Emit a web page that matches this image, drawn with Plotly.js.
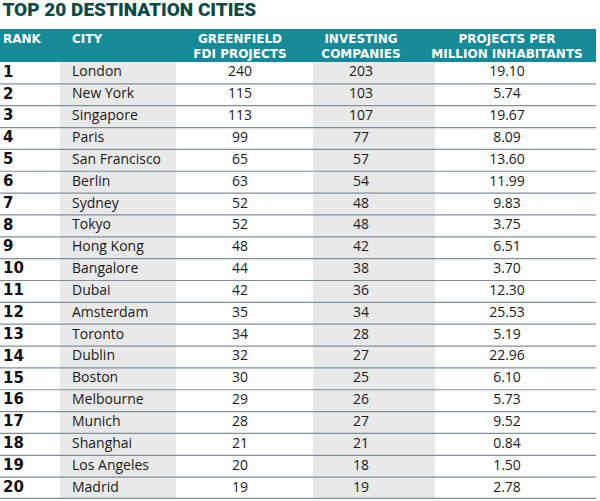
<!DOCTYPE html>
<html>
<head>
<meta charset="utf-8">
<script src="https://cdn.plot.ly/plotly-3.0.1.min.js"></script>
<style>html,body{margin:0;padding:0;background:#fff;}#chart{width:600px;height:501px;}</style>
</head>
<body>
<div id="chart"></div>
<script>
// ---- data ----
const titleText = "TOP 20 DESTINATION CITIES";
const headers = ["RANK", "CITY", "GREENFIELD<br>FDI PROJECTS", "INVESTING<br>COMPANIES", "PROJECTS PER<br>MILLION INHABITANTS"];
const ranks = [1,2,3,4,5,6,7,8,9,10,11,12,13,14,15,16,17,18,19,20];
const cities = ["London","New York","Singapore","Paris","San Francisco","Berlin","Sydney","Tokyo","Hong Kong","Bangalore","Dubai","Amsterdam","Toronto","Dublin","Boston","Melbourne","Munich","Shanghai","Los Angeles","Madrid"];
const greenfieldProjects = [240,115,113,99,65,63,52,52,48,44,42,35,34,32,30,29,28,21,20,19];
const investingCompanies = [203,103,107,77,57,54,48,48,42,38,36,34,28,27,25,26,27,21,18,19];
const projectsPerMillion = [19.10,5.74,19.67,8.09,13.60,11.99,9.83,3.75,6.51,3.70,12.30,25.53,5.19,22.96,6.10,5.73,9.52,0.84,1.50,2.78];

// ---- layout constants (styles/positions) ----
const W = 600, H = 501;
const colText = [3, 72, 240, 361, 507];          // text anchors (x axis units = px)
const headerPos = ["bottom right", "bottom right", "bottom center", "bottom center", "bottom center"];
const shadedCols = [[60, 176], [313, 435]];
const tableRight = 596;
const headerTop = 29, headerBottom = 62, bodyBottom = 499;
const teal = "#178a97", titleColor = "#0c4b47", shade = "#e9e9e9", lineColor = "#7f909c";
const bodyFont = "'Open Sans', 'Noto Sans', sans-serif";
const heavyFont = "'DejaVu Sans', Roboto, sans-serif";
const titleFont = "Roboto, 'DejaVu Sans', sans-serif";

const fr = py => (H - py) / H;

const numCols = [
  {vals: ranks.map(String), x: colText[0], pos: "middle right", font: {family: heavyFont, size: 15, color: "#111", weight: 700}},
  {vals: cities, x: colText[1], pos: "middle right", font: {family: bodyFont, size: 14, color: "#1a1a1a"}},
  {vals: greenfieldProjects.map(String), x: colText[2], pos: "middle center", font: {family: bodyFont, size: 14, color: "#1a1a1a"}},
  {vals: investingCompanies.map(String), x: colText[3], pos: "middle center", font: {family: bodyFont, size: 14, color: "#1a1a1a"}},
  {vals: projectsPerMillion.map(v => v.toFixed(2)), x: colText[4], pos: "middle center", font: {family: bodyFont, size: 14, color: "#1a1a1a"}}
];

const traces = numCols.map(c => ({
  type: "scatter", mode: "text",
  x: ranks.map(() => c.x), y: ranks,
  text: c.vals, textposition: c.pos, textfont: c.font,
  hoverinfo: "skip", cliponaxis: false, showlegend: false,
  xaxis: "x", yaxis: "y"
}));

// header labels on the header axis
traces.push({
  type: "scatter", mode: "text",
  x: colText, y: headers.map(() => 0.86),
  text: headers, textposition: headerPos,
  textfont: {family: heavyFont, size: 12, color: "#ffffff", weight: 700},
  marker: {size: 1},
  hoverinfo: "skip", cliponaxis: false, showlegend: false,
  xaxis: "x", yaxis: "y2"
});

const shapes = [];
shadedCols.forEach(([a, b]) => shapes.push({
  type: "rect", xref: "x", yref: "y domain", x0: a, x1: b, y0: 0, y1: 1,
  fillcolor: shade, line: {width: 0}, layer: "below"
}));
shapes.push({
  type: "rect", xref: "x", yref: "y2 domain", x0: 0, x1: tableRight, y0: 0, y1: 1,
  fillcolor: teal, line: {width: 0}, layer: "below"
});
ranks.forEach((r, i) => {
  const last = i === ranks.length - 1;
  shapes.push({
    type: "line", xref: "x", yref: "y", x0: 0, x1: tableRight, y0: r + 0.5, y1: r + 0.5,
    line: {color: lineColor, width: last ? 2.5 : 1.2}, layer: "below"
  });
});

const layout = {
  width: W, height: H,
  margin: {l: 0, r: 0, t: 0, b: 0, pad: 0},
  paper_bgcolor: "#ffffff", plot_bgcolor: "#ffffff",
  showlegend: false,
  title: {
    text: titleText, x: 0.004, xanchor: "left", xref: "paper",
    y: 0.994, yanchor: "top", yref: "container",
    font: {family: titleFont, size: 19, color: titleColor, weight: 900}
  },
  xaxis: {range: [0, W], visible: false, fixedrange: true},
  yaxis: {range: [ranks.length + 0.5, 0.5], domain: [fr(bodyBottom), fr(headerBottom)], visible: false, fixedrange: true},
  yaxis2: {range: [0, 1], domain: [fr(headerBottom), fr(headerTop)], visible: false, fixedrange: true, anchor: "x"},
  shapes: shapes
};

Plotly.newPlot("chart", traces, layout, {staticPlot: true, displayModeBar: false});
</script>
</body>
</html>
